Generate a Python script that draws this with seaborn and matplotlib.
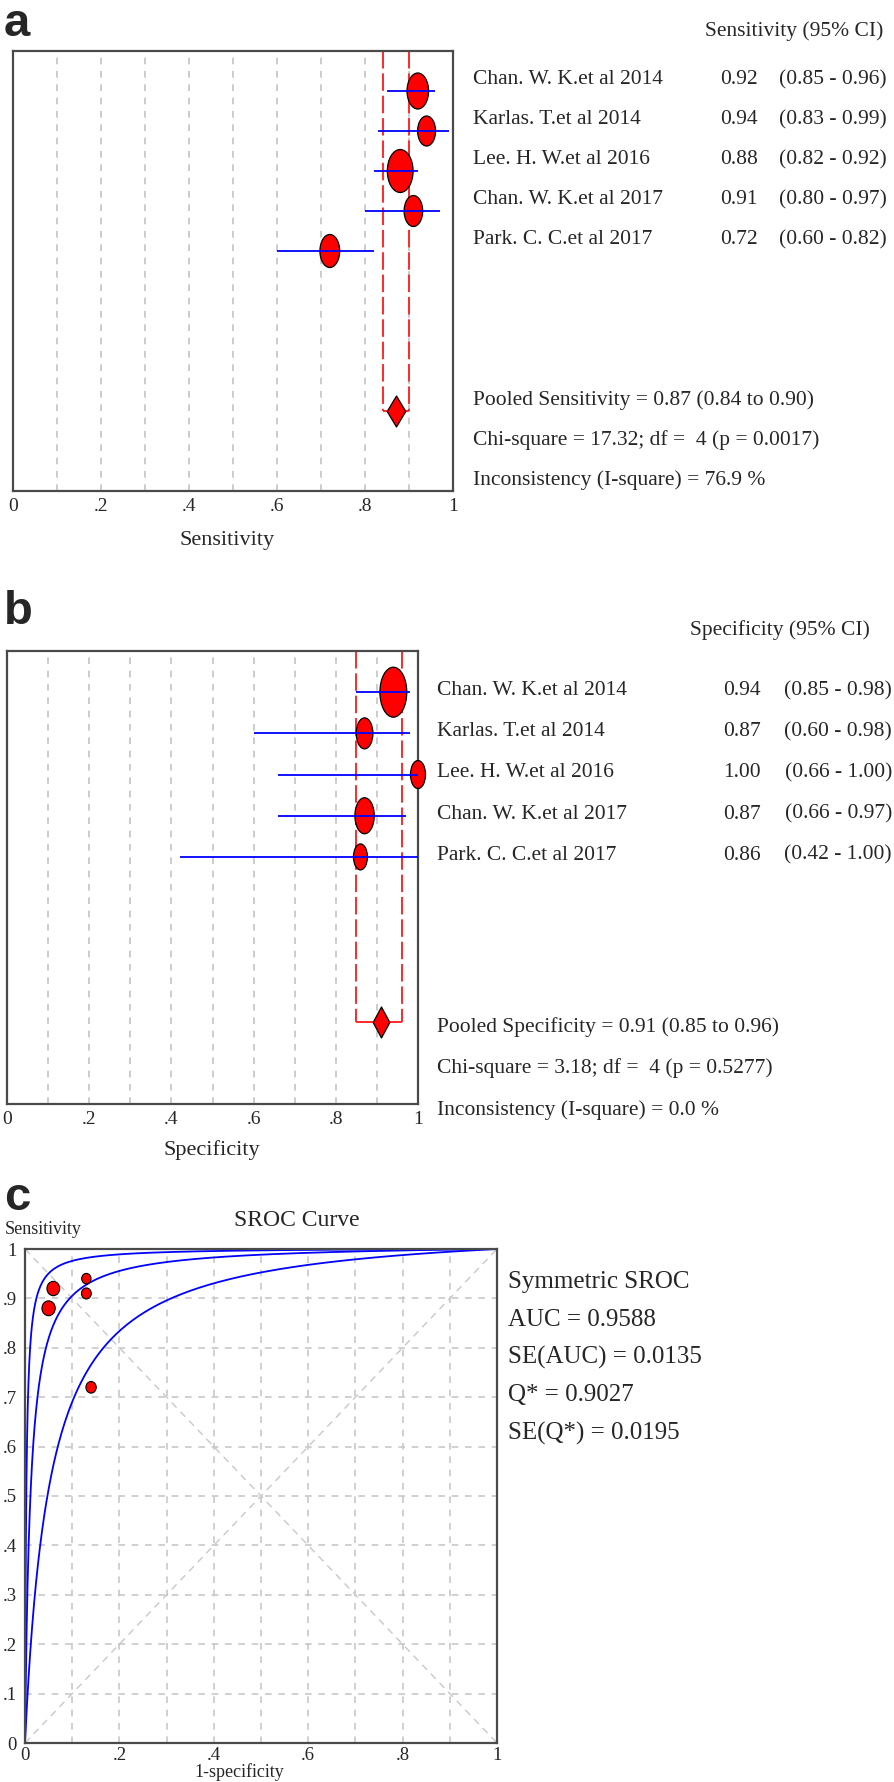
import numpy as np
import pandas as pd
import matplotlib
matplotlib.use("Agg")
import matplotlib.pyplot as plt
import matplotlib.transforms as mtransforms
from matplotlib.path import Path
import seaborn as sns

# --- data ---
studies = ["Chan. W. K.et al 2014", "Karlas. T.et al 2014", "Lee. H. W.et al 2016",
           "Chan. W. K.et al 2017", "Park. C. C.et al 2017"]
sens = [0.92, 0.94, 0.88, 0.91, 0.72]
sens_lo = [0.85, 0.83, 0.82, 0.80, 0.60]
sens_hi = [0.96, 0.99, 0.92, 0.97, 0.82]
sens_weight = [36, 30, 43, 31, 33]        # relative study weight (marker height)
spec = [0.94, 0.87, 1.00, 0.87, 0.86]
spec_lo = [0.85, 0.60, 0.66, 0.66, 0.42]
spec_hi = [0.98, 0.98, 1.00, 0.97, 1.00]
spec_weight = [50, 31, 28, 36, 26]
pooled_sens = [0.87, 0.84, 0.90]
pooled_spec = [0.91, 0.85, 0.96]
sens_stats = ["Pooled Sensitivity = 0.87 (0.84 to 0.90)",
              "Chi-square = 17.32; df =  4 (p = 0.0017)",
              "Inconsistency (I-square) = 76.9 %"]
spec_stats = ["Pooled Specificity = 0.91 (0.85 to 0.96)",
              "Chi-square = 3.18; df =  4 (p = 0.5277)",
              "Inconsistency (I-square) = 0.0 %"]
# SROC panel
sroc_fpr = [0.06, 0.13, 0.05, 0.13, 0.14]
sroc_weight = [13, 9.5, 13.5, 10, 10.5]
sroc_lndor = [3.0, 4.455, 5.9]            # lower, fitted (Q* = 0.9027), upper
sroc_stats = ["Symmetric SROC", "AUC = 0.9588", "SE(AUC) = 0.0135",
              "Q* = 0.9027", "SE(Q*) = 0.0195"]
forest_ticks = [0, 0.2, 0.4, 0.6, 0.8, 1.0]
forest_ticklabels = ["0", ".2", ".4", ".6", ".8", "1"]
sroc_yticklabels = ["0", ".1", ".2", ".3", ".4", ".5", ".6", ".7", ".8", ".9", "1"]

sns.set_style("white")
plt.rcParams["font.family"] = ["Liberation Serif", "DejaVu Serif"]

W, H = 894, 1782
fig = plt.figure(figsize=(W / 100, H / 100), dpi=100)


def box(x0, y0, x1, y1):
    return [x0 / W, 1 - y1 / H, (x1 - x0) / W, (y1 - y0) / H]


def ellipse(aspect):
    c = Path.unit_circle()
    return Path(c.vertices * [1, aspect], c.codes)


def diamond(aspect):
    return Path([(0, aspect), (1, 0), (0, -aspect), (-1, 0), (0, aspect)],
                [Path.MOVETO, Path.LINETO, Path.LINETO, Path.LINETO, Path.CLOSEPOLY])


PX = 0.72  # points per pixel at dpi 100


def forest(ax, est, lo, hi, weight, pooled, aspect, header, stats,
           xl, x_val, x_ci, x_head, name_dy, stat_y, xlabel, xlab_pos):
    rows = np.arange(1, len(est) + 1)
    df = pd.DataFrame({"est": est, "lo": lo, "hi": hi, "row": rows, "w": weight})
    for v in np.arange(0.1, 0.95, 0.1):
        ax.axvline(v, color="#c4c4c4", lw=1.2, ls=(0, (4, 4)), zorder=0)
    ax.vlines([pooled[1], pooled[2]], 0, 9, color="#ff2a2a", lw=1.4,
              linestyles=[(0, (9, 2.5))], zorder=1)
    ax.hlines(9, pooled[1], pooled[2], color="#ff2a2a", lw=1.4, zorder=1)
    sns.scatterplot(data=df, x="est", y="row", ax=ax, marker=ellipse(aspect),
                    s=(df["w"] * PX) ** 2, color="#ff0000", edgecolor="black",
                    linewidth=0.9, zorder=3, legend=False, clip_on=False)
    ax.hlines(df["row"], df["lo"], df["hi"], color="#0000ff", lw=1.3, zorder=4)
    sns.scatterplot(x=[pooled[0]], y=[9], ax=ax, marker=diamond(aspect),
                    s=(31 * PX) ** 2, color="#ff0000", edgecolor="black",
                    linewidth=0.9, zorder=3, legend=False)
    ax.set_xlim(0, 1)
    ax.set_ylim(11, 0)
    ax.set_xticks(forest_ticks)
    ax.set_xticklabels(forest_ticklabels, fontsize=14)
    ax.set_yticks([])
    ax.tick_params(axis="x", length=0, pad=5)
    ax.set_xlabel("")
    ax.set_ylabel("")
    for s in ax.spines.values():
        s.set_color("#4a4a4a")
        s.set_linewidth(1.6)
    tr = mtransforms.blended_transform_factory(fig.transFigure, ax.transData)
    for r, name, e, l, h in zip(rows, studies, est, lo, hi):
        y = r + name_dy
        ax.text(xl / W, y, name, transform=tr, fontsize=15.5, va="center", ha="left")
        ax.text(x_val / W, y, f"{e:.2f}", transform=tr, fontsize=15.5, va="center", ha="right")
        ax.text(x_ci / W, y, f"({l:.2f} - {h:.2f})", transform=tr, fontsize=15.5,
                va="center", ha="right")
    ax.text(x_head / W, -0.5, header, transform=tr, fontsize=15.5, va="center", ha="right")
    for y, t in zip(stat_y, stats):
        ax.text(xl / W, y, t, transform=tr, fontsize=15.5, va="center", ha="left")
    fig.text(xlab_pos[0] / W, 1 - xlab_pos[1] / H, xlabel, fontsize=16,
             ha="center", va="center")


# --- panel a ---
ax_a = fig.add_axes(box(13, 51, 453, 491))
forest(ax_a, sens, sens_lo, sens_hi, sens_weight, pooled_sens, 1.67,
       "Sensitivity (95% CI)", sens_stats, 473, 758, 887, 883, -0.28,
       [8.72, 9.72, 10.72], "Sensitivity", (227, 540))

# --- panel b ---
ax_b = fig.add_axes(box(7, 651, 418, 1104))
forest(ax_b, spec, spec_lo, spec_hi, spec_weight, pooled_spec, 1.86,
       "Specificity (95% CI)", spec_stats, 437, 761, 892, 870, -0.04,
       [9.12, 10.12, 11.15], "Specificity", (212, 1150))

# --- panel c ---
ax_c = fig.add_axes(box(25, 1249, 497, 1743))
for v in np.arange(0.1, 0.95, 0.1):
    ax_c.axvline(v, color="#c8c8c8", lw=1.2, ls=(0, (4, 4)), zorder=0)
    ax_c.axhline(v, color="#c8c8c8", lw=1.2, ls=(0, (4, 4)), zorder=0)
ax_c.plot([0, 1], [0, 1], color="#c8c8c8", lw=1.0, ls=(0, (5, 4)), zorder=0)
ax_c.plot([0, 1], [1, 0], color="#c8c8c8", lw=1.0, ls=(0, (5, 4)), zorder=0)
fpr_grid = np.concatenate([[0.0], np.logspace(-7, 0, 600)])
for d in sroc_lndor:
    odds = np.exp(d) * fpr_grid / (1 - np.clip(fpr_grid, 0, 1 - 1e-12))
    tpr = np.where(fpr_grid >= 1, 1.0, odds / (1 + odds))
    sns.lineplot(x=fpr_grid, y=tpr, ax=ax_c, sort=False, estimator=None,
                 color="#0000ff", lw=1.3, zorder=2)
pts = pd.DataFrame({"fpr": sroc_fpr, "sens": sens, "w": sroc_weight})
sns.scatterplot(data=pts, x="fpr", y="sens", ax=ax_c, marker=ellipse(1.12),
                s=(pts["w"] * 1.1 * PX) ** 2, color="#ff0000", edgecolor="black",
                linewidth=0.8, zorder=3, legend=False)
ax_c.set_xlim(0, 1)
ax_c.set_ylim(0, 1)
ax_c.set_xticks(forest_ticks)
ax_c.set_xticklabels(forest_ticklabels, fontsize=13.5)
ax_c.set_yticks(np.linspace(0, 1, 11))
ax_c.set_yticklabels(sroc_yticklabels, fontsize=13.5)
ax_c.tick_params(axis="x", length=3, pad=0, color="#4a4a4a")
ax_c.tick_params(axis="y", length=4, pad=2, color="#4a4a4a")
ax_c.set_xlabel("")
ax_c.set_ylabel("")
for s in ax_c.spines.values():
    s.set_color("#4a4a4a")
    s.set_linewidth(1.6)
fig.text(297 / W, 1 - 1220 / H, "SROC Curve", fontsize=17, ha="center", va="center")
fig.text(5 / W, 1 - 1229 / H, "Sensitivity", fontsize=13, ha="left", va="center")
fig.text(239 / W, 1 - 1772 / H, "1-specificity", fontsize=13, ha="center", va="center")
for y, t in zip([1282, 1320, 1357, 1395, 1433], sroc_stats):
    fig.text(508 / W, 1 - y / H, t, fontsize=18, ha="left", va="center")

# panel letters
for letter, yb in [("a", 36), ("b", 624), ("c", 1210)]:
    fig.text(4 / W, 1 - yb / H, letter, fontsize=34, fontweight="bold",
             family=["Liberation Sans", "DejaVu Sans"], ha="left", va="baseline")

fig.savefig("out.png", dpi=100)
